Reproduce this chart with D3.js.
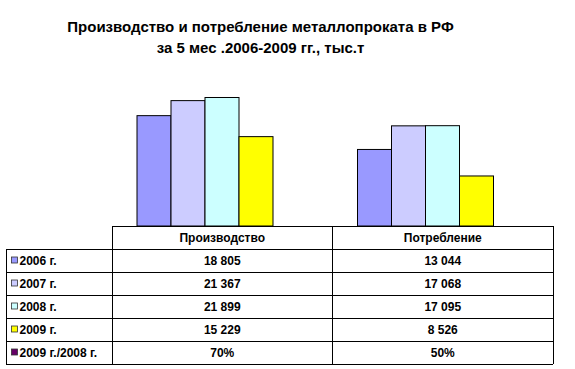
<!DOCTYPE html>
<html><head><meta charset="utf-8">
<script src="https://cdn.jsdelivr.net/npm/d3@7"></script>
<style>body{margin:0;background:#fff}svg{display:block}text{font-family:"Liberation Sans",Arial,sans-serif}</style>
</head><body>
<script>
const titleLines = ["Производство и потребление металлопроката в РФ", "за 5 мес .2006-2009 гг., тыс.т"];
const categories = ["Производство", "Потребление"];
const series = ["2006 г.", "2007 г.", "2008 г.", "2009 г."];
const values = [[18805, 13044], [21367, 17068], [21899, 17095], [15229, 8526]];
const ratioLabel = "2009 г./2008 г.";
const ratioValues = ["70%", "50%"];
const colors = ["#9999FF", "#CCCCFF", "#CCFFFF", "#FFFF00"];
const ratioColor = "#660066";

const W = 575, H = 369;
const svg = d3.select("body").append("svg").attr("width", W).attr("height", H);

svg.append("text").attr("x", 260.5).attr("y", 31.5).attr("text-anchor", "middle")
  .attr("font-size", 15).attr("font-weight", "bold").text(titleLines[0]);
svg.append("text").attr("x", 260.5).attr("y", 52.5).attr("text-anchor", "middle")
  .attr("font-size", 15).attr("font-weight", "bold").text(titleLines[1]);

const x0 = d3.scaleBand().domain(categories).range([112, 553]);
const x1 = d3.scaleBand().domain(series).range([25, 161]);
const y = d3.scaleLinear().domain([0, 25000]).range([226, 79.3]);

series.forEach((s, i) => {
  svg.append("g").selectAll("rect").data(categories).join("rect")
    .attr("x", c => x0(c) + x1(s)).attr("width", x1.bandwidth())
    .attr("y", (c, j) => y(values[i][j])).attr("height", (c, j) => y(0) - y(values[i][j]))
    .attr("fill", colors[i]).attr("stroke", "#000").attr("stroke-width", 1);
});

// table
const rowKeys = ["header", ...series, ratioLabel];
const ry = d3.scaleBand().domain(rowKeys).range([226, 364]);
const left = 6;
const g = svg.append("g").attr("stroke", "#000").attr("stroke-width", 1).attr("shape-rendering", "crispEdges");
g.append("line").attr("x1", x0.range()[0]).attr("x2", x0.range()[1]).attr("y1", ry("header")).attr("y2", ry("header"));
rowKeys.slice(1).forEach(k => {
  g.append("line").attr("x1", left).attr("x2", x0.range()[1]).attr("y1", ry(k)).attr("y2", ry(k));
});
g.append("line").attr("x1", left).attr("x2", x0.range()[1]).attr("y1", ry.range()[1]).attr("y2", ry.range()[1]);
g.append("line").attr("x1", left).attr("x2", left).attr("y1", ry(series[0])).attr("y2", ry.range()[1]);
[x0(categories[0]), x0(categories[1]), x0.range()[1]].forEach(xx => {
  g.append("line").attr("x1", xx).attr("x2", xx).attr("y1", ry("header")).attr("y2", ry.range()[1]);
});

const fs = 12;
categories.forEach(c => {
  svg.append("text").attr("x", x0(c) + x0.bandwidth() / 2).attr("y", ry("header") + ry.bandwidth() / 2 + 4.5)
    .attr("text-anchor", "middle").attr("font-size", fs).attr("font-weight", "bold").text(c);
});
const rowColors = [...colors, ratioColor];
const rowVals = [...values.map(v => v.map(n => d3.format(",")(n).replace(/,/g, " "))), ratioValues];
rowKeys.slice(1).forEach((k, i) => {
  const cy = ry(k) + ry.bandwidth() / 2;
  svg.append("rect").attr("x", 11.5).attr("y", cy - 3.5).attr("width", 6).attr("height", 6)
    .attr("fill", rowColors[i]).attr("stroke", "#333").attr("stroke-width", 0.8);
  svg.append("text").attr("x", 19.5).attr("y", cy + 4.5).attr("font-size", fs).attr("font-weight", "bold").text(k);
  categories.forEach((c, j) => {
    svg.append("text").attr("x", x0(c) + x0.bandwidth() / 2).attr("y", cy + 4.5)
      .attr("text-anchor", "middle").attr("font-size", fs).attr("font-weight", "bold").text(rowVals[i][j]);
  });
});
</script>
</body></html>
